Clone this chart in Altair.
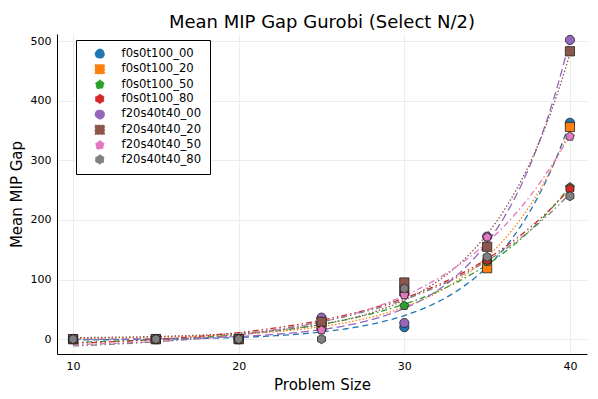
import altair as alt
import numpy as np
import pandas as pd

sizes = [10, 15, 20, 25, 30, 35, 40]
series_names = ["f0s0t100_00", "f0s0t100_20", "f0s0t100_50", "f0s0t100_80",
                "f20s40t40_00", "f20s40t40_20", "f20s40t40_50", "f20s40t40_80"]
gap_f0s0t100_00 = [0, 0, 0, 25, 20, 130, 363]
gap_f0s0t100_20 = [0, 0, 0, 22, 80, 119, 356]
gap_f0s0t100_50 = [0, 0, 0, 25, 56, 130, 255]
gap_f0s0t100_80 = [0, 0, 0, 28, 78, 133, 252]
gap_f20s40t40_00 = [0, 0, 0, 36, 27, 172, 502]
gap_f20s40t40_20 = [0, 0, 0, 29, 95, 155, 483]
gap_f20s40t40_50 = [0, 0, 0, 15, 74, 171, 340]
gap_f20s40t40_80 = [0, 0, 0, 0, 85, 138, 240]
all_gaps = [gap_f0s0t100_00, gap_f0s0t100_20, gap_f0s0t100_50, gap_f0s0t100_80,
            gap_f20s40t40_00, gap_f20s40t40_20, gap_f20s40t40_50, gap_f20s40t40_80]

colors = ["#1f77b4", "#ff7f0e", "#2ca02c", "#d62728",
          "#9467bd", "#8c564b", "#e377c2", "#7f7f7f"]
pentagon = "M0,-1L0.951,-0.309L0.588,0.809L-0.588,0.809L-0.951,-0.309Z"
hexagon = "M0,-1L0.866,-0.5L0.866,0.5L0,1L-0.866,0.5L-0.866,-0.5Z"
shapes = ["circle", "square", pentagon, hexagon, "circle", "square", pentagon, hexagon]
dashes = [[6, 4], [1.5, 2], [6, 3, 1.5, 3], [6, 3, 1.5, 3, 1.5, 3],
          [8, 4], [1.5, 2], [6, 3, 1.5, 3], [6, 3, 1.5, 3, 1.5, 3]]

rows = []
for i, name in enumerate(series_names):
    for x, y in zip(sizes, all_gaps[i]):
        rows.append({"series": name, "order": i, "size": x, "gap": y})
df = pd.DataFrame(rows)

# exponential fit with offset (y = a*exp(b*x) + c) for each series, as in the original
xs = np.array(sizes, dtype=float)
fit_rows = []
grid = np.linspace(10, 40, 121)
for i, name in enumerate(series_names):
    ys = np.array(all_gaps[i], dtype=float)
    best = None
    for b in np.arange(0.01, 0.6, 0.001):
        A = np.column_stack([np.exp(b * (xs - 40)), np.ones_like(xs)])
        coef, *_ = np.linalg.lstsq(A, ys, rcond=None)
        sse = float(np.sum((A @ coef - ys) ** 2))
        if best is None or sse < best[0]:
            best = (sse, b, coef)
    _, b, coef = best
    for gx in grid:
        fit_rows.append({"series": name, "size": float(gx),
                         "gap": float(coef[0] * np.exp(b * (gx - 40)) + coef[1])})
fit_df = pd.DataFrame(fit_rows)

xscale = alt.Scale(domain=[9.03, 41.03], nice=False, zero=False)
yscale = alt.Scale(domain=[-25, 512], nice=False, zero=False)
cscale = alt.Scale(domain=series_names, range=colors)

lines = alt.Chart(fit_df).mark_line(strokeWidth=1.3, clip=True).encode(
    x=alt.X("size:Q", scale=xscale,
            axis=alt.Axis(values=[10, 20, 30, 40], title="Problem Size")),
    y=alt.Y("gap:Q", scale=yscale,
            axis=alt.Axis(values=[0, 100, 200, 300, 400, 500], title="Mean MIP Gap")),
    color=alt.Color("series:N", scale=cscale),
    strokeDash=alt.StrokeDash("series:N",
                              scale=alt.Scale(domain=series_names, range=dashes),
                              legend=None),
)

legend_cfg = dict(title=None, orient="none", legendX=19, legendY=6,
                  symbolStrokeColor="#222222", symbolStrokeWidth=0.8)

points = alt.Chart(df).mark_point(filled=True, size=85, opacity=1).encode(
    x=alt.X("size:Q", scale=xscale),
    y=alt.Y("gap:Q", scale=yscale),
    color=alt.Color("series:N", scale=cscale, legend=alt.Legend(**legend_cfg)),
    shape=alt.Shape("series:N", scale=alt.Scale(domain=series_names, range=shapes),
                    legend=alt.Legend(**legend_cfg)),
    stroke=alt.value("#222222"),
    strokeWidth=alt.value(0.8),
    order=alt.Order("order:Q"),
)

chart = alt.layer(lines, points).properties(
    width=530, height=320,
    title=alt.Title("Mean MIP Gap Gurobi (Select N/2)", fontSize=18,
                    font="DejaVu Sans", fontWeight="normal", color="#000000",
                    anchor="middle", offset=2),
    padding={"left": 49, "top": 26, "right": 3, "bottom": 40},
    autosize=alt.AutoSizeParams(type="none"),
).configure_view(stroke=None).configure_axis(
    labelFont="DejaVu Sans", titleFont="DejaVu Sans", labelFontSize=11,
    titleFontSize=15, titleFontWeight="normal", labelColor="#000000",
    titleColor="#000000", domainColor="#000000", domainWidth=1,
    gridColor="#e8e8e8", gridWidth=0.8, ticks=False, labelPadding=6,
).configure_axisX(titlePadding=6).configure_axisY(titlePadding=6).configure_legend(
    labelFont="DejaVu Sans", labelFontSize=11.6, labelColor="#000000",
    strokeColor="#000000", fillColor="#ffffff", padding=8,
    symbolSize=90, symbolOffset=10, labelOffset=16, rowPadding=1.4, symbolOpacity=1,
)

chart.save("out.html", embed_options={"renderer": "svg", "actions": False})
